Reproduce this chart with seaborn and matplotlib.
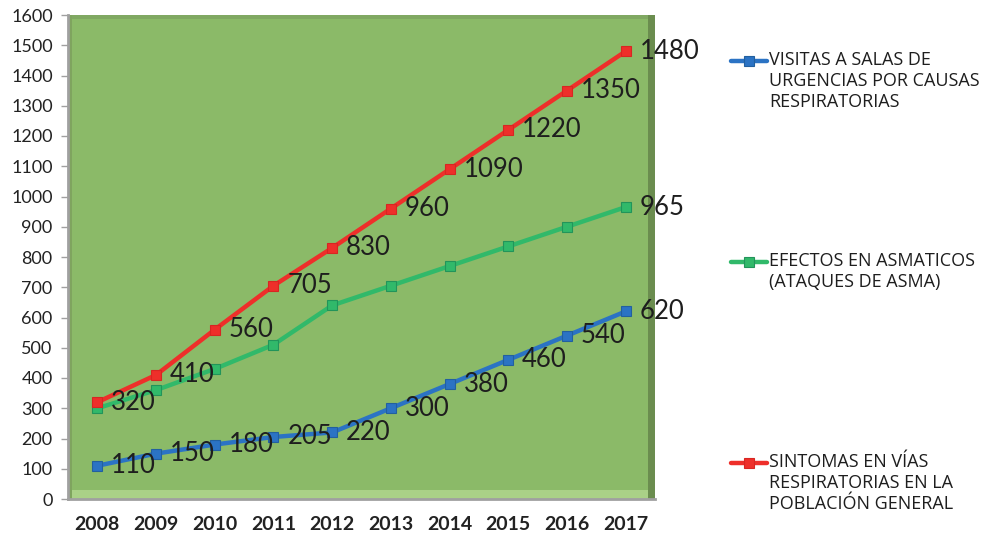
import numpy as np
import pandas as pd
import matplotlib.pyplot as plt
import seaborn as sns
from matplotlib.lines import Line2D
from matplotlib.patches import Rectangle

# ---------------- data ----------------
years = ['2008', '2009', '2010', '2011', '2012', '2013', '2014', '2015', '2016', '2017']
visitas = [110, 150, 180, 205, 220, 300, 380, 460, 540, 620]
efectos = [300, 360, 430, 510, 640, 705, 770, 835, 900, 965]
sintomas = [320, 410, 560, 705, 830, 960, 1090, 1220, 1350, 1480]

series_names = ['VISITAS A SALAS DE\nURGENCIAS POR CAUSAS\nRESPIRATORIAS',
                'EFECTOS EN ASMATICOS\n(ATAQUES DE ASMA)',
                'SINTOMAS EN VÍAS\nRESPIRATORIAS EN LA\nPOBLACIÓN GENERAL']
series_values = [visitas, efectos, sintomas]
colors = ['#2b73c4', '#31b96a', '#ee2f2a']
edge_colors = ['#22609f', '#22945a', '#d82622']
# which points get a value label
label_all = [True, False, True]

df = pd.DataFrame({
    'year': years * 3,
    'value': visitas + efectos + sintomas,
    'serie': [n for n in series_names for _ in years],
})

# ---------------- figure ----------------
sns.set_style('white')
plt.rcParams['font.family'] = ['Lato', 'DejaVu Sans']

W, H = 1004, 537
fig = plt.figure(figsize=(W / 100, H / 100), dpi=100)
ax = fig.add_axes([68 / W, 1 - 499 / H, 587 / W, 484 / H])
ax.set_facecolor('#8bba68')

sns.lineplot(data=df, x='year', y='value', hue='serie', palette=colors,
             marker='s', markersize=7.5, linewidth=3.2, ax=ax, legend=False)
for line, ec in zip(ax.lines, edge_colors):
    line.set_markeredgecolor(ec)
    line.set_markeredgewidth(0.8)

# bevel-ish frame of the plot area
ax.add_patch(Rectangle((0, 0), 1, 0.019, transform=ax.transAxes,
                       color='#aad187', zorder=0.5, lw=0))
ax.add_patch(Rectangle((0, 0.991), 1, 0.009, transform=ax.transAxes,
                       color='#80a862', zorder=0.5, lw=0))
ax.add_patch(Rectangle((0, 0), 0.007, 1, transform=ax.transAxes,
                       color='#7fa45f', zorder=0.5, lw=0))
ax.add_patch(Rectangle((0.988, 0), 0.012, 1, transform=ax.transAxes,
                       color='#6b8d4f', zorder=0.5, lw=0))

ax.set_xlim(-0.5, 9.5)
ax.set_ylim(0, 1600)
ax.set_yticks(np.arange(0, 1601, 100))
ax.set_yticklabels([str(v) for v in range(0, 1601, 100)], fontsize=13, color='#222222')

# category boundaries as tick marks, labels centred under each year
ax.set_xticks(np.arange(-0.5, 10, 1))
ax.set_xticklabels([''] * 11)
ax.set_xticks(np.arange(len(years)), minor=True)
ax.set_xticklabels(years, minor=True, fontsize=14, fontweight='bold', color='#222222')
ax.tick_params(axis='x', which='major', length=6, color='#a0a0a0', width=1, direction='out')
ax.tick_params(axis='x', which='minor', length=0, pad=12)
ax.tick_params(axis='y', length=5, color='#a0a0a0', width=1, direction='out', pad=6, left=True)
ax.set_xlabel('')
ax.set_ylabel('')

for side in ['top', 'right']:
    ax.spines[side].set_visible(False)
for side in ['left', 'bottom']:
    ax.spines[side].set_color('#a0a0a0')
    ax.spines[side].set_linewidth(2)

# value labels
for vals, show_all in zip(series_values, label_all):
    for i, v in enumerate(vals):
        if show_all or i == len(vals) - 1:
            ax.annotate(str(v), (i, v), xytext=(10, 0), textcoords='offset points',
                        ha='left', va='center', fontsize=18.5, color='#1e1e1e',
                        annotation_clip=False)

# legend on the right, entries top-aligned on an even step
for k, (name, c, ec) in enumerate(zip(series_names, colors, edge_colors)):
    top = 51 + k * 201
    yc = 1 - (top + 10) / H
    fig.add_artist(Line2D([731 / W, 767 / W], [yc, yc], transform=fig.transFigure,
                          color=c, lw=3.2))
    fig.add_artist(Line2D([749 / W], [yc], transform=fig.transFigure, marker='s',
                          markersize=7.5, color=c, markeredgecolor=ec, markeredgewidth=0.8))
    fig.text(769 / W, 1 - top / H, name, ha='left', va='top', fontsize=13,
             family=['Open Sans', 'DejaVu Sans'], color='#1e1e1e', linespacing=1.2)

fig.savefig('out.png', dpi=100)
